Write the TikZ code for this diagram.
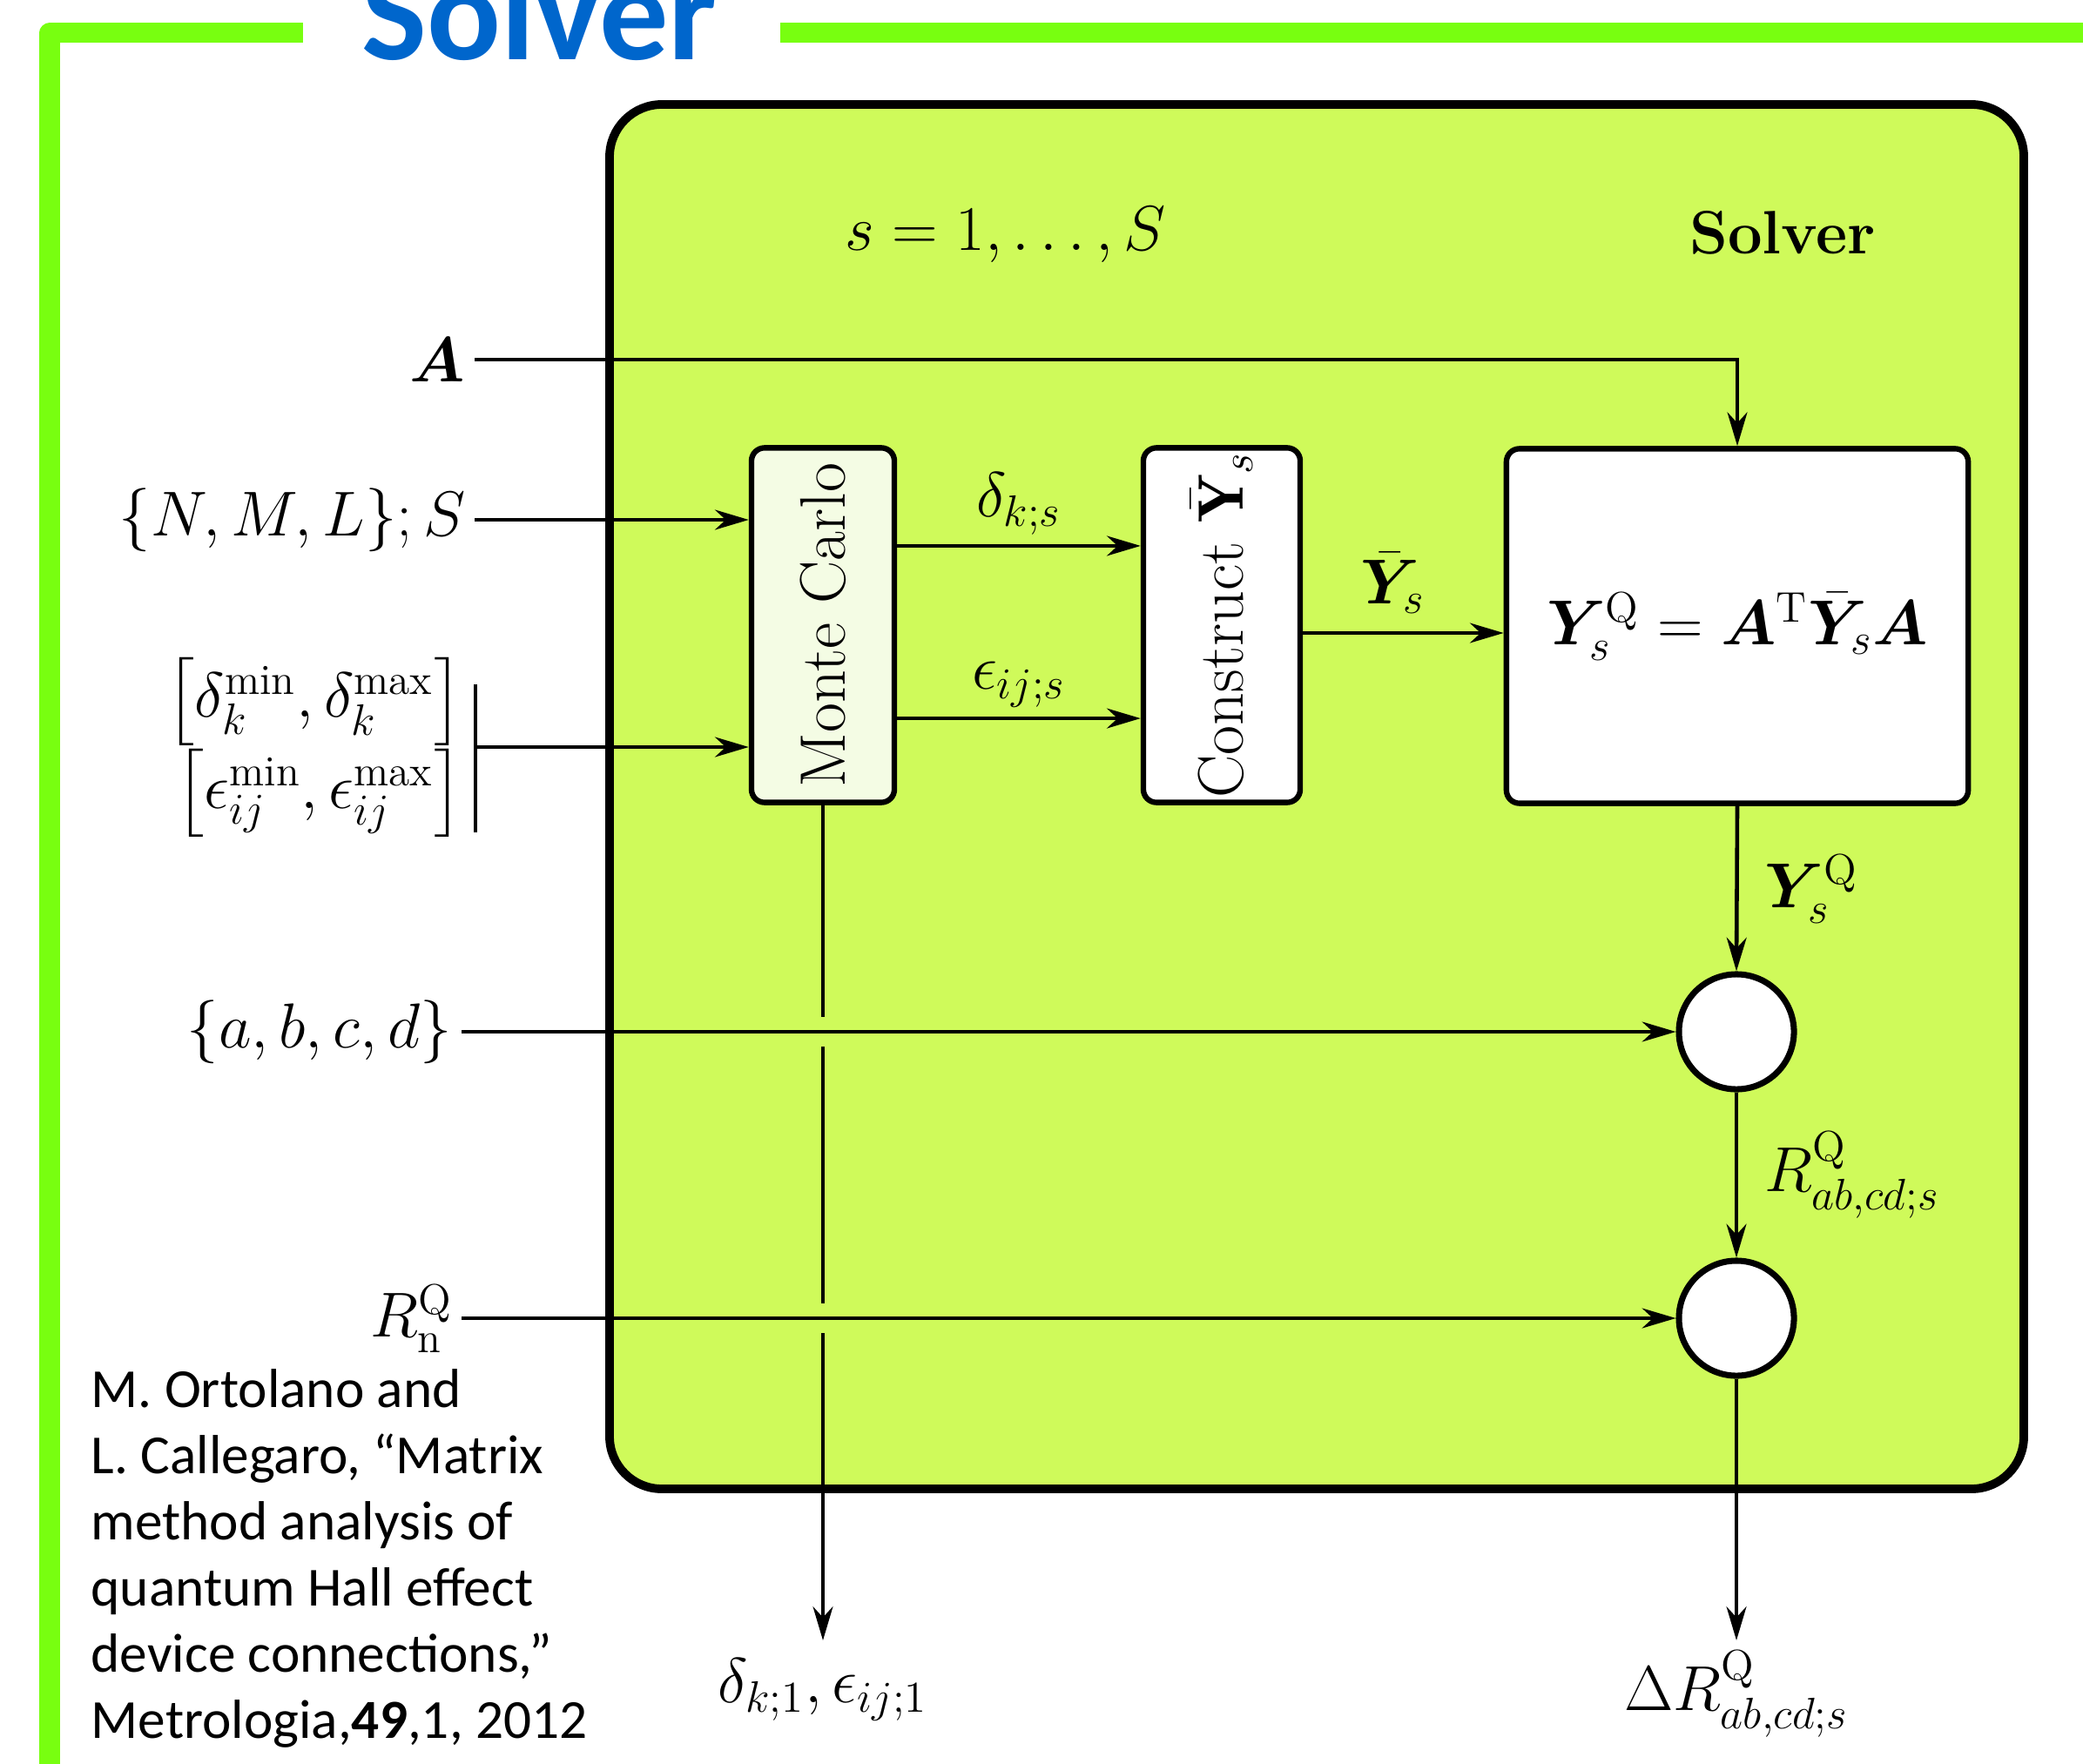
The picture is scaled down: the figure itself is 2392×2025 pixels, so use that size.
\documentclass[tikz,border=0pt]{standalone}
\usepackage{amsmath,amssymb}
\usepackage{bm}
\usepackage{graphicx}
\usepackage{fontspec}
\usepackage{xcolor}
\usepackage{tikz}
\usetikzlibrary{arrows.meta,positioning}
\newfontfamily\calibri{Carlito}
\definecolor{framegreen}{HTML}{78FF10}
\definecolor{solverfill}{HTML}{CFFA5A}
\definecolor{mcfill}{HTML}{F4FCE4}
\definecolor{titleblue}{HTML}{0066CC}
\newcommand{\Ybar}{\bar{\bm{Y}}}
\newcommand{\lbrk}{\mathopen{\vcenter{\hbox{\scalebox{1}[0.8]{$\Bigl[$}}}}}
\newcommand{\rbrk}{\mathclose{\vcenter{\hbox{\scalebox{1}[0.8]{$\Bigr]$}}}}}

\begin{document}
\begin{tikzpicture}[x=0.01cm, y=-0.01cm, >={Stealth[length=11pt,width=6.5pt,inset=3.5pt]},
  lbl/.style={font=\fontsize{20}{24}\selectfont, inner sep=0.1cm},
  blockbox/.style={draw, line width=1.8pt, rounded corners=0.15cm, fill=white,
    minimum width=1.8cm, minimum height=4.07cm, font=\fontsize{21}{25}\selectfont, inner sep=0},
  junction/.style={draw, circle, line width=2pt, fill=white, minimum size=1.32cm, inner sep=0},
  arr/.style={->, line width=1.3pt},
  wire/.style={line width=1.3pt},
  cite/.style={font=\calibri\fontsize{18}{21.6}\selectfont, align=left, inner sep=0}]
  \useasboundingbox (0,0) rectangle (2392,2025);
  \fill[white] (0,0) rectangle (2392,2025);
  % Frame and title
  \draw[framegreen, line width=0.23cm, line join=round] (57,2060) -- (57,38) -- (348,38);
  \draw[framegreen, line width=0.23cm] (896,38) -- (2420,38);
  \node[anchor=base west, inner sep=0, text=titleblue, font=\calibri\bfseries\fontsize{45}{54}\selectfont] (title) at (415,69) {Solver};
  % Solver block
  \draw[line width=2.8pt, fill=solverfill, rounded corners=0.6cm] (700,120) rectangle (2324,1710);
  \node[lbl] (loop) at (1155,270) {$s=1,\dots,S$};
  \node[lbl, font=\fontsize{20}{24}\selectfont\bfseries] (name) at (2047,267) {Solver};
  % Blocks
  \node[blockbox, fill=mcfill, minimum width=1.64cm] (mc) at (945,718) {\rotatebox{90}{Monte Carlo}};
  \node[blockbox] (cy) at (1403,718) {\rotatebox{90}{Construct $\bar{\mathbf{Y}}_s$}};
  \node[blockbox, minimum width=5.3cm, font=\fontsize{20}{24}\selectfont] (yq) at (1995,719) {$\bm{Y}_s^{\mathrm{Q}}=\bm{A}^{\mathrm{T}}\Ybar_s\bm{A}$};
  \node[junction] (c1) at (1994,1185) {};
  \node[junction] (c2) at (1994,1514) {};
  % Inputs
  \node[lbl, anchor=east] (inA) at (545,413) {$\bm{A}$};
  \node[lbl, anchor=east] (inNML) at (545,597) {$\{N,M,L\};S$};
  \node[lbl, anchor=east, inner xsep=0.14cm, inner ysep=0] (rng) at (546,858)
    {$\begin{array}{@{}r@{}}\lbrk\delta_k^{\min},\delta_k^{\max}\rbrk\\ \lbrk\epsilon_{ij}^{\min},\epsilon_{ij}^{\max}\rbrk\end{array}$};
  \node[lbl, anchor=east] (inabcd) at (530,1185) {$\{a,b,c,d\}$};
  \node[lbl, anchor=east] (inRn) at (530,1514) {$R_{\mathrm{n}}^{\mathrm{Q}}$};
  % Outputs
  \node[lbl, anchor=north, inner ysep=0.2cm] (outD) at (945,1884) {$\delta_{k;1},\epsilon_{ij;1}$};
  \node[lbl, anchor=north] (outR) at (1994,1884) {$\Delta R^{\mathrm{Q}}_{ab,cd;s}$};
  % Connections
  \draw[arr] (inA.east) -| (yq.north);
  \draw[arr] (inNML.east) -- (inNML.east -| mc.west);
  \draw[wire] ([yshift=-0.34cm]rng.north east) -- ([yshift=0.08cm]rng.south east);
  \draw[arr] (rng.east) -- (rng.east -| mc.west);
  \draw[arr] ([yshift=0.91cm]mc.east) -- ([yshift=0.91cm]mc.east -| cy.west) node[lbl, midway, above] {$\delta_{k;s}$};
  \draw[arr] ([yshift=-1.07cm]mc.east) -- ([yshift=-1.07cm]mc.east -| cy.west) node[lbl, midway, above] {$\epsilon_{ij;s}$};
  \draw[arr] ([yshift=-0.09cm]cy.east) -- ([yshift=-0.09cm]cy.east -| yq.west) node[lbl, midway, above=0.1cm, xshift=-0.12cm] {$\Ybar_s$};
  \draw[arr] (yq.south) -- (c1.north) node[lbl, midway, right=0.2cm] {$\bm{Y}_s^{\mathrm{Q}}$};
  \draw[arr] (c1.south) -- (c2.north) node[lbl, midway, right=0.2cm] {$R^{\mathrm{Q}}_{ab,cd;s}$};
  \draw[arr] (inabcd.east) -- (c1.west);
  \draw[arr] (inRn.east) -- (c2.west);
  \draw[arr] (c2.south) -- (outR.north);
  % Monte Carlo tap, broken where it crosses
  \draw[wire] (mc.south) -- ([yshift=0.17cm]mc.south |- c1.west);
  \draw[wire] ([yshift=-0.17cm]mc.south |- c1.west) -- ([yshift=0.17cm]mc.south |- c2.west);
  \draw[arr] ([yshift=-0.17cm]mc.south |- c2.west) -- (outD.north);
  % Reference
  \node[cite, anchor=north west] (ref) at (104,1572) {M. Ortolano and\\L. Callegaro, “Matrix\\method analysis of\\quantum Hall effect\\device connections,”\\Metrologia,\textbf{49},1, 2012};
\end{tikzpicture}
\end{document}
